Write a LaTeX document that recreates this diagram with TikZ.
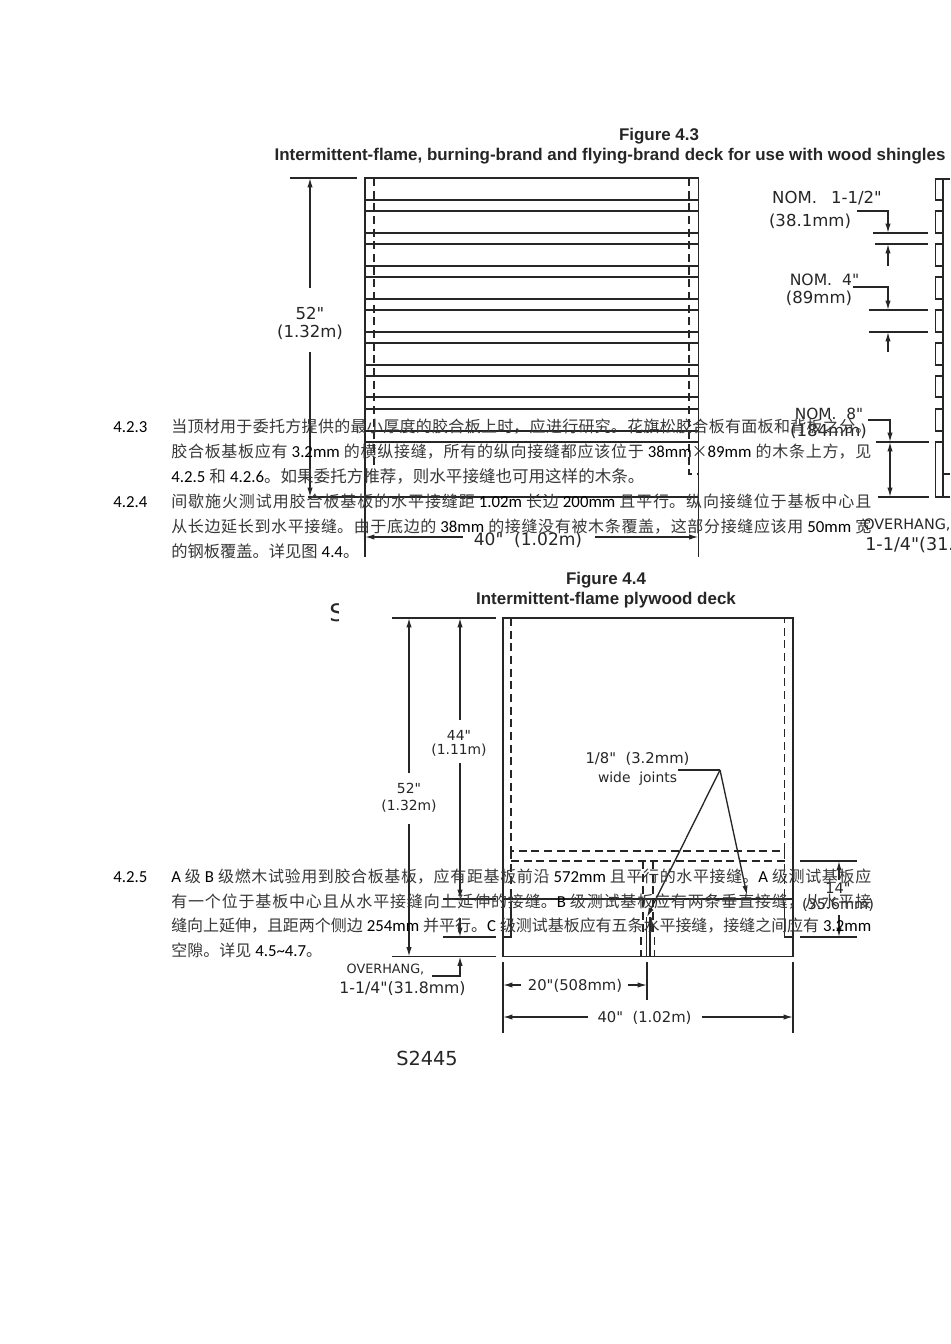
\documentclass[tikz,border=0pt]{standalone}
\usepackage{fontspec}
\usetikzlibrary{arrows.meta}
\setmainfont{Carlito}
\newfontfamily\cj{Noto Sans CJK SC}
\newfontfamily\cad{DejaVu Sans}
\newfontfamily\ttl{Liberation Sans}
\XeTeXlinebreaklocale "zh"
\XeTeXlinebreakskip=0pt plus 4pt minus 0.3pt
\definecolor{ink}{gray}{0.15}
\definecolor{cjcol}{gray}{0.22}
\newcommand{\fsz}[1]{\fontsize{#1}{#1}\selectfont}
\newcommand{\jl}[1]{\parbox[b]{525pt}{\parfillskip=0pt \noindent\fsz{12}\color{cjcol}\cj #1}}
\newcommand{\nl}[2][12]{{\fsz{#1}\color{cjcol}\cj #2}}
\newcommand{\lc}[1]{{\fontspec{Carlito}\fsz{12.6}\color{black}#1}}
\newcommand{\lb}[1]{\lc{#1}\hspace{0.25em}}
\newcommand{\la}[1]{\hspace{0.25em}\lb{#1}}
\tikzset{
  obj/.style={line width=1.2pt,draw=ink},
  thin obj/.style={line width=1pt,draw=ink},
  hid/.style={line width=1pt,draw=ink,dash pattern=on 6pt off 3.5pt},
  dim/.style={line width=1pt,draw=ink},
  arr/.style={dim,-{Latex[length=7pt,width=4pt]}},
  cadtxt/.style={inner sep=0pt,text=ink,font=\cad\fsz{12.4}},
  cadsm/.style={inner sep=0pt,text=ink,font=\cad\fsz{10.4}},
  cadmd/.style={inner sep=0pt,text=ink,font=\cad\fsz{11.1}},
  ttxt/.style={inner sep=0pt,text=ink,font=\ttl\bfseries\fsz{12.7}},
  body/.style={inner sep=0pt,anchor=base west,text=black},
  head/.style={body,font=\fsz{12.6}}
}
\begin{document}
\begin{tikzpicture}[x=0.75pt,y=-0.75pt]
\useasboundingbox (0,0) rectangle (950,1344);
\fill[white] (0,0) rectangle (950,1344);
\begin{scope}
\clip (0,0) rectangle (950,1344);
% ---------- Figure 4.3
\node[ttxt] (t43a) at (659,136) {Figure 4.3};
\node[ttxt] (t43b) at (610,156) {Intermittent-flame, burning-brand and flying-brand deck for use with wood shingles};
\draw[obj] (365,557) -- (365,178) -- (698.5,178) -- (698.5,557);
\foreach \y in {200,211,233,244,266,277,299,310,332,343,365,376,397,409,431,442}
  \draw[obj] (365,\y) -- (698.5,\y);
\draw[obj] (308,497) -- (698.5,497);
\draw[hid] (374,178) -- (374,465);
\draw[hid] (689,178) -- (689,474) -- (698.5,474);
\draw[dim] (290,178) -- (357,178);
\draw[arr] (310,288) -- (310,178);
\draw[arr] (310,352) -- (310,497);
\node[cadtxt] (a52) at (310,313) {52"};
\node[cadtxt] (a132) at (310,332) {(1.32m)};
\draw[arr] (463,537) -- (365,537);
\draw[arr] (595,537) -- (698.5,537);
\node[cadtxt,font=\cad\fsz{12.8}] (a40) at (528,540) {40"\ \ (1.02m)};
% side strip
\draw[obj] (950,179) -- (943,179) -- (943,497) -- (950,497);
\foreach \a/\b in {179/200,211/233,244/266,277/299,310/332,343/365,376/397,409/431,442/497}
  \draw[thin obj] (943,\a) -- (935.5,\a) -- (935.5,\b) -- (943,\b);
\draw[thin obj] (943,474) -- (950,474);
% nominal dims
\node[cadtxt] (n1) at (827,198) {NOM.\hspace{10.5pt}1-1/2"};
\node[cadtxt] (n2) at (810,221) {(38.1mm)};
\draw[arr] (857,211) -- (888,211) -- (888,233);
\draw[dim] (873,233) -- (928,233);
\draw[dim] (875,244) -- (928,244);
\draw[arr] (888,266) -- (888,244);
\node[cadtxt,font=\cad\fsz{11.7}] (n3) at (824.5,280) {NOM.\ \ 4"};
\node[cadtxt] (n4) at (819,298) {(89mm)};
\draw[arr] (853,287) -- (888,287) -- (888,310);
\draw[dim] (869,310) -- (928,310);
\draw[dim] (869,332) -- (928,332);
\draw[arr] (888,352) -- (888,332);
\node[cadtxt,font=\cad\fsz{11.5}] (n5) at (829,414) {NOM.\ \ 8"};
\node[cadtxt] (n6) at (828.5,431) {(184mm)};
\draw[arr] (868,420) -- (890,420) -- (890,442);
\draw[arr] (890,464) -- (890,442);
\draw[arr] (890,460) -- (890,497);
\draw[dim] (876,442) -- (929,442);
\draw[dim] (878,497) -- (929,497);
\node[cadtxt,anchor=west,font=\cad\fsz{10.8}] (o1) at (863,525) {OVERHANG,};
\node[cadtxt,anchor=west,font=\cad\fsz{13.2}] (o2) at (865,545) {1-1/4"(31.8mm)};
% ---------- clipped S
\begin{scope}
\clip (320,595) rectangle (338,630);
\node[inner sep=0pt,anchor=west,text=ink,font=\cad\fsz{18}] (s43) at (329,613) {S2443};
\end{scope}
% ---------- Figure 4.4
\node[ttxt] (t44a) at (606,580) {Figure 4.4};
\node[ttxt] (t44b) at (606,600) {Intermittent-flame plywood deck};
\draw[obj] (503,618) rectangle (793,956.5);
\draw[hid] (511,618) -- (511,851) -- (784.5,851) -- (784.5,618);
\draw[hid] (511,851) -- (511,905);
\draw[hid] (784.5,851) -- (784.5,905);
\draw[hid] (511,861) -- (784.5,861);
\draw[thin obj] (511,905) -- (511,937) -- (503,937);
\draw[thin obj] (784.5,905) -- (784.5,937) -- (793,937);
\draw[obj] (503,899) -- (793,899);
\draw[hid] (643,861) -- (643,935);
\draw[hid] (653,861) -- (653,935);
\draw[thin obj] (646.8,917) -- (646.8,956.5);
\draw[thin obj] (650,917) -- (650,956.5);
\draw[hid] (641,937) -- (641,956.5);
\draw[hid] (654.5,937) -- (654.5,956.5);
\draw[dim] (392,618) -- (496,618);
\draw[dim] (392,956.5) -- (496,956.5);
\draw[dim] (443,899) -- (496,899);
\draw[dim] (443,937) -- (496,937);
\draw[arr] (409,773) -- (409,618);
\draw[arr] (409,824) -- (409,956.5);
\node[cadsm] (b52) at (409,788) {52"};
\node[cadsm] (b132) at (409,806) {(1.32m)};
\draw[arr] (460,720) -- (460,618);
\draw[arr] (460,763) -- (460,899);
\draw[arr] (460,918) -- (460,937);
\node[cadsm] (b44) at (459,735) {44"};
\node[cadsm] (b111) at (459,750) {(1.11m)};
\node[cadmd] (j1) at (637.5,759) {1/8"\ \ (3.2mm)};
\node[cadsm] (j2) at (637.5,779) {wide\ \ joints};
\coordinate (jt) at (720,770);
\draw[dim] (678,770) -- (jt);
\draw[arr] (jt) -- (647,917);
\draw[arr] (jt) -- (747,895);
\draw[dim] (800,861) -- (857,861);
\draw[dim] (800,937) -- (857,937);
\draw[arr] (839,880) -- (839,861);
\draw[arr] (839,915) -- (839,937);
\node[cadsm,font=\cad\fsz{10.9}] (c14) at (838,888) {14"};
\node[cadsm,font=\cad\fsz{10.9}] (c356) at (838,905) {(35.6mm)};
\node[cadsm,font=\cad\fsz{9.6}] (o3) at (385.5,969) {OVERHANG,};
\node[cadsm,font=\cad\fsz{11.8}] (o4) at (402.5,989) {1-1/4"(31.8mm)};
\draw[arr] (432,976) -- (460,976) -- (460,956.5);
\draw[dim] (503,962) -- (503,1033);
\draw[dim] (647,962) -- (647,1000);
\draw[dim] (793,962) -- (793,1033);
\draw[arr] (521,985) -- (503,985);
\draw[arr] (628,985) -- (647,985);
\node[cadmd] (d20) at (575,986) {20"(508mm)};
\draw[arr] (588,1017) -- (503,1017);
\draw[arr] (702,1017) -- (793,1017);
\node[cadmd] (d40) at (644.5,1018) {40"\ \ (1.02m)};
\node[inner sep=0pt,text=ink,font=\cad\fsz{14.5}] (s45) at (427,1058) {S2445};
% ---------- body text
\node[head] (h1) at (113,432.5) {4.2.3};
\node[body] (l1) at (171,432.5) {\jl{当顶材用于委托方提供的最小厚度的胶合板上时，应进行研究。花旗松胶合板有面板和背板之分。}};
\node[body] (l2) at (171,457) {\jl{胶合板基板应有\la{3.2mm}的横纵接缝，所有的纵向接缝都应该位于\hspace{0.25em}\lc{38mm}×\lb{89mm}的木条上方，见}};
\node[body] (l3) at (171,482.5) {\nl[12.4]{\lb{4.2.5}和\hspace{0.25em}\lc{4.2.6}。如果委托方推荐，则水平接缝也可用这样的木条。}};
\node[head] (h2) at (113,507) {4.2.4};
\node[body] (l4) at (171,507) {\jl{间歇施火测试用胶合板基板的水平接缝距\la{1.02m}长边\la{200mm}且平行。纵向接缝位于基板中心且}};
\node[body] (l5) at (171,532) {\jl{从长边延长到水平接缝。由于底边的\la{38mm}的接缝没有被木条覆盖，这部分接缝应该用\la{50mm}宽}};
\node[body] (l6) at (171,557.5) {\nl[12.2]{的钢板覆盖。详见图\hspace{0.25em}\lc{4.4}。}};
\node[head] (h3) at (113,882) {4.2.5};
\node[body] (l7) at (171,882) {\jl{\lb{A}级\la{B}级燃木试验用到胶合板基板，应有距基板前沿\la{572mm}且平行的水平接缝。\lb{A}级测试基板应}};
\node[body] (l8) at (171,907) {\jl{有一个位于基板中心且从水平接缝向上延伸的接缝。\lb{B}级测试基板应有两条垂直接缝，从水平接}};
\node[body] (l9) at (171,931) {\jl{缝向上延伸，且距两个侧边\la{254mm}并平行。\lb{C}级测试基板应有五条水平接缝，接缝之间应有\hspace{0.25em}\lc{3.2mm}}};
\node[body] (l10) at (171,956) {\nl{空隙。详见\hspace{0.25em}\lc{4.5\textasciitilde 4.7}。}};
\end{scope}
\end{tikzpicture}
\end{document}
